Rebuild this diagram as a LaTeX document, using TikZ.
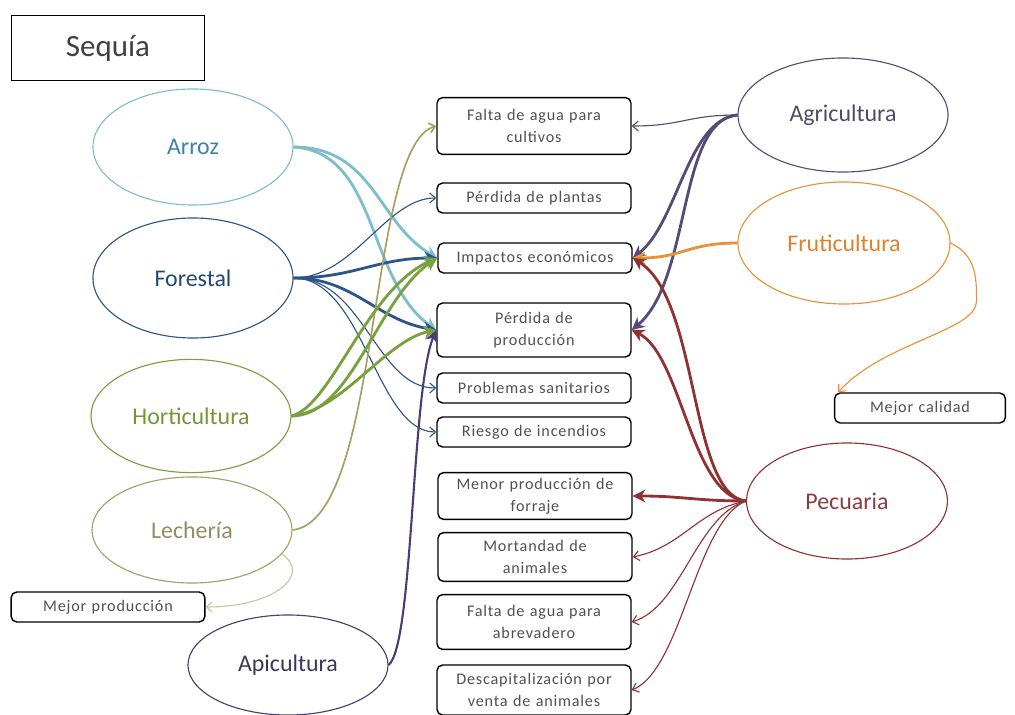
\documentclass[tikz,border=0pt]{standalone}
\usepackage{fontspec}
\setmainfont{Carlito}
\newfontfamily\cajafont{Carlito}[LetterSpace=5]
\usetikzlibrary{shapes.geometric,arrows.meta}
\definecolor{arrozl}{RGB}{125,190,205}
\definecolor{arrozt}{RGB}{60,130,165}
\definecolor{forestl}{RGB}{45,85,135}
\definecolor{forestt}{RGB}{35,70,115}
\definecolor{hortil}{RGB}{120,160,60}
\definecolor{hortit}{RGB}{115,150,55}
\definecolor{lechel}{RGB}{165,160,100}
\definecolor{lechet}{RGB}{145,140,95}
\definecolor{apil}{RGB}{75,60,115}
\definecolor{apit}{RGB}{60,55,85}
\definecolor{agril}{RGB}{85,75,120}
\definecolor{agrit}{RGB}{80,75,105}
\definecolor{frutil}{RGB}{232,145,55}
\definecolor{frutit}{RGB}{220,130,45}
\definecolor{pecul}{RGB}{145,50,50}
\definecolor{pecut}{RGB}{140,60,60}
\definecolor{cajat}{RGB}{80,80,80}
\begin{document}
\begin{tikzpicture}[x=0.025cm,y=-0.025cm,
		sector/.style={ellipse,draw=#1,line width=0.8pt,minimum width=5cm,minimum height=2.9cm,inner sep=0pt,font=\fontsize{17}{20}\selectfont},
		impacto/.style={draw=black,line width=1pt,rounded corners=4pt,minimum width=4.85cm,text width=4.7cm,align=center,inner sep=2pt,font=\cajafont\fontsize{11.5}{15.5}\selectfont,text=cajat},
		flecha/.style={draw=#1,line width=0.8pt,-{Straight Barb[length=4pt,width=7pt]}},
		gruesa/.style={draw=#1,line width=2pt,-{Stealth[length=9pt,width=9pt]}}]
		\useasboundingbox (0,0) rectangle (1015,715);

		\node[draw,line width=1.2pt,minimum width=4.825cm,minimum height=1.625cm,font=\fontsize{22}{26}\selectfont,text=darkgray] (sequia) at (108,48) {Sequía};

		\node[sector=arrozl,text=arrozt] (arroz) at (193,147) {Arroz};
		\node[sector=forestl,text=forestt,minimum height=3cm] (forestal) at (193,278) {Forestal};
		\node[sector=hortil,text=hortit,minimum height=2.83cm] (horti) at (191,416) {Horticultura};
		\node[sector=lechel,text=lechet,minimum height=2.65cm] (leche) at (192,530) {Lechería};
		\node[sector=apil,text=apit,minimum height=2.5cm] (api) at (288,665) {Apicultura};
		\node[sector=agril,text=agrit,minimum width=5.25cm,minimum height=2.85cm] (agri) at (843,115) {Agricultura};
		\node[sector=frutil,text=frutit,minimum width=5.3cm,minimum height=3.05cm] (fruti) at (844,243) {Fruticultura};
		\node[sector=pecul,text=pecut,minimum width=5.02cm,minimum height=2.9cm] (pecu) at (847,501) {Pecuaria};

		\node[impacto,minimum height=1.42cm] (falta) at (534,126) {Falta de agua para\\cultivos};
		\node[impacto,minimum height=0.75cm] (plantas) at (534,198) {Pérdida de plantas};
		\node[impacto,minimum height=0.75cm] (impactos) at (535,258) {Impactos económicos};
		\node[impacto,minimum height=1.35cm] (perdida) at (534,330) {Pérdida de\\producción};
		\node[impacto,minimum height=0.75cm] (sanitarios) at (534,388) {Problemas sanitarios};
		\node[impacto,minimum height=0.75cm] (riesgo) at (534,432) {Riesgo de incendios};
		\node[impacto,minimum height=1.17cm] (forraje) at (535,496) {Menor producción de\\forraje};
		\node[impacto,minimum height=1.22cm] (mortandad) at (535,557) {Mortandad de\\animales};
		\node[impacto,minimum height=1.37cm] (abrevadero) at (534,622) {Falta de agua para\\abrevadero};
		\node[impacto,minimum height=1.25cm] (descap) at (534,690) {Descapitalización por\\venta de animales};
		\node[impacto,minimum width=4.27cm,text width=4cm,minimum height=0.75cm] (calidad) at (920,408) {Mejor calidad};
		\node[impacto,minimum width=4.82cm,minimum height=0.75cm] (mejorprod) at (108,607) {Mejor producción};

		\draw[gruesa=arrozl] (arroz.east) .. controls +(80,0) and +(-60,-35) .. (impactos.west);
		\draw[gruesa=arrozl] (arroz.east) .. controls +(85,5) and +(-70,-50) .. (perdida.west);

		\draw[flecha=forestl] (forestal.east) .. controls +(60,0) and +(-50,0) .. (plantas.west);
		\draw[gruesa=forestl] (forestal.east) .. controls +(60,0) and +(-60,0) .. (impactos.west);
		\draw[gruesa=forestl] (forestal.east) .. controls +(60,0) and +(-60,-10) .. (perdida.west);
		\foreach \dest in {sanitarios,riesgo}
			\draw[flecha=forestl] (forestal.east) .. controls +(70,0) and +(-60,0) .. (\dest.west);

		\draw[flecha=lechel,line width=1.2pt] (leche.east) .. controls +(90,-10) and +(-70,20) .. (falta.west);
		\draw[flecha=lechel!60] (leche.-15) .. controls +(30,20) and +(70,0) .. (mejorprod.east);

		\draw[gruesa=hortil] (horti.east) .. controls +(60,0) and +(-60,40) .. (impactos.west);
		\draw[gruesa=hortil] (horti.east) .. controls +(40,-10) and +(-70,30) .. (impactos.west);
		\draw[gruesa=hortil] (horti.east) .. controls +(50,-5) and +(-50,10) .. (perdida.west);

		\draw[gruesa=apil,line width=1.5pt] (api.east) .. controls +(25,-20) and +(-25,60) .. (perdida.west);

		\draw[flecha=agril] (agri.west) .. controls +(-50,0) and +(50,0) .. (falta.east);
		\draw[gruesa=agril] (agri.west) .. controls +(-50,5) and +(45,-35) .. (impactos.east);
		\draw[gruesa=agril] (agri.west) .. controls +(-60,5) and +(60,-50) .. (perdida.east);

		\draw[gruesa=frutil] (fruti.west) .. controls +(-50,0) and +(50,0) .. (impactos.east);
		\draw[flecha=frutil] (fruti.east) .. controls +(25,12) and +(0,-25) .. ++(26,58)
			.. controls +(0,30) and +(45,-50) .. ([xshift=3pt]calidad.north west);

		\draw[gruesa=pecul] (pecu.west) .. controls +(-57,-6) and +(67,42) .. (impactos.east);
		\draw[gruesa=pecul] (pecu.west) .. controls +(-55,-5) and +(50,25) .. (perdida.east);
		\draw[gruesa=pecul] (pecu.west) .. controls +(-50,0) and +(50,0) .. (forraje.east);
		\foreach \dest/\dy in {mortandad/10,abrevadero/15,descap/20}
			\draw[flecha=pecul] (pecu.west) .. controls +(-50,\dy) and +(50,-\dy) .. (\dest.east);

	\end{tikzpicture}
\end{document}
